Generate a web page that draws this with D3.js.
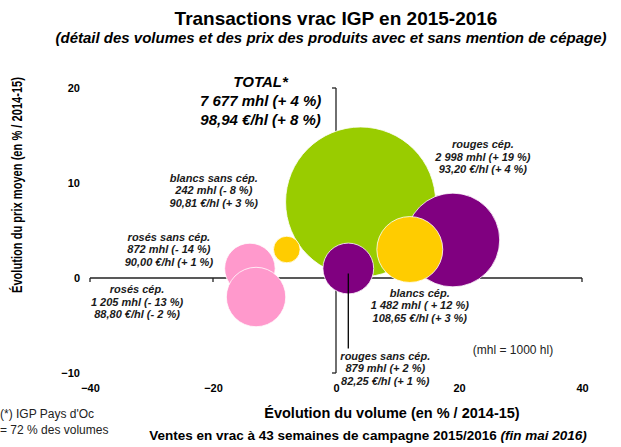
<!DOCTYPE html>
<meta charset="utf-8">
<script src="https://d3js.org/d3.v7.min.js"></script>
<style type="text/css">
body { margin: 0; background: #fff; }
svg { font-family: "Liberation Sans", Arial, sans-serif; }
.tick-label { font-size: 11px; font-weight: bold; fill: #000; }
.bulle-label { font-size: 11px; font-weight: bold; font-style: italic; fill: #1a1a1a; }
.total-label { font-size: 15px; font-weight: bold; font-style: italic; fill: #000; }
.axe { stroke: #222; stroke-width: 1.3; fill: none; }
</style>
<body>
<div id="canvas"></div>
<script>

// donnees ---------------------------------------------------------------
var categories = ["TOTAL*", "rouges cép.", "blancs cép.", "rouges sans cép.",
                  "blancs sans cép.", "rosés sans cép.", "rosés cép."];
var volumes   = [7677, 2998, 1482, 879, 242, 872, 1205];     // mhl
var evolVol   = [4, 19, 12, 2, -8, -14, -13];                // % / 2014-15
var prix      = ["98,94", "93,20", "108,65", "82,25", "90,81", "90,00", "88,80"]; // €/hl
var evolPrix  = [8, 4, 3, 1, 3, 1, -2];                      // % / 2014-15
var xTicks = [-40, -20, 0, 20, 40];
var yTicks = [-10, 0, 10, 20];

var couleurs = ["#99cc00", "#800080", "#ffcc00", "#800080", "#ffcc00", "#ff99cc", "#ff99cc"];
// position des etiquettes par rapport au centre de la bulle
var decalage = [[-100, -115], [30, -92], [10, 47], [37, 91], [-73, -68], [-81, -28], [-119, -4]];

var data = categories.map(function(c, i) {
    return {nom: c, vol: volumes[i], dx: evolVol[i], prix: prix[i], dy: evolPrix[i]};
});

var width = 621;
var height = 447;

var svg = d3.select('#canvas')
    .append("svg")
    .attr('width', width)
    .attr('height', height);

// echelles ----------------------------------------------------------
var x = d3.scaleLinear().domain([-40, 40]).range([90, 582]);
var y = d3.scaleLinear().domain([-10, 20]).range([373, 88]);
var r = d3.scaleSqrt().domain([0, d3.max(volumes)]).range([0, 75]);

// titres
svg.append("text")
    .attr("x", 336).attr("y", 25)
    .attr("text-anchor", "middle")
    .style("font-size", "19px").style("font-weight", "bold")
    .text("Transactions vrac IGP en 2015-2016");
svg.append("text")
    .attr("x", 331).attr("y", 43)
    .attr("text-anchor", "middle")
    .style("font-size", "15px").style("font-weight", "bold").style("font-style", "italic")
    .text("(détail des volumes et des prix des produits avec et sans mention de cépage)");

// etiquettes des axes (loin des lignes, comme excel)
svg.append("g")
    .attr("transform", "translate(80,0)")
    .call(d3.axisLeft(y).tickValues(yTicks).tickSize(0).tickPadding(0))
    .call(function(g) { g.select(".domain").remove(); })
    .selectAll("text").attr("class", "tick-label").attr("font-family", null).attr("font-size", null);

svg.append("g")
    .attr("transform", "translate(0,384)")
    .call(d3.axisBottom(x).tickValues(xTicks).tickSize(0).tickPadding(0))
    .call(function(g) { g.select(".domain").remove(); })
    .selectAll("text").attr("class", "tick-label").attr("font-family", null).attr("font-size", null);

// lignes des axes ----------------------------------------------------
svg.append("line").attr("class", "axe")
    .attr("x1", x(-40)).attr("x2", x(40)).attr("y1", y(0)).attr("y2", y(0));
svg.append("line").attr("class", "axe")
    .attr("x1", x(0)).attr("x2", x(0)).attr("y1", y(20)).attr("y2", y(-10));
svg.selectAll(".xt").data(xTicks.filter(function(d) { return d != 0; })).enter()
    .append("line").attr("class", "axe")
    .attr("x1", function(d) { return x(d); }).attr("x2", function(d) { return x(d); })
    .attr("y1", y(0)).attr("y2", y(0) + 4);
svg.selectAll(".yt").data(yTicks).enter()
    .append("line").attr("class", "axe")
    .attr("x1", x(0) - 4).attr("x2", x(0))
    .attr("y1", function(d) { return y(d); }).attr("y2", function(d) { return y(d); });

// bulles -------------------------------------------------------------
svg.selectAll(".bulle")
    .data(data)
    .enter()
    .append("circle")
    .attr("cx", function(d) { return x(d.dx); })
    .attr("cy", function(d) { return y(d.dy); })
    .attr("r", function(d) { return r(d.vol); })
    .style("fill", function(d, i) { return couleurs[i]; })
    .style("stroke", "#fff")
    .style("stroke-width", 0.8);

// trait pour rouges sans cep.
var rsc = data[3];
svg.append("line")
    .attr("x1", x(rsc.dx)).attr("x2", x(rsc.dx))
    .attr("y1", y(rsc.dy) + 5).attr("y2", y(rsc.dy) + 80)
    .style("stroke", "#000").style("stroke-width", 1.3);

// etiquettes des bulles ---------------------------------------------
function signe(v) { return (v < 0 ? "- " : "+ ") + Math.abs(v) + " %"; }
var fmtVol = function(v) { return d3.format(",")(v).replace(/,/g, " "); };

data.forEach(function(d, i) {
    var total = i == 0;
    var lignes = [d.nom,
        fmtVol(d.vol) + " mhl (" + (i == 2 ? " " : "") + signe(d.dx) + ")",
        d.prix + " €/hl (" + signe(d.dy) + ")"];
    var t = svg.append("text")
        .attr("class", total ? "total-label" : "bulle-label")
        .attr("text-anchor", "middle")
        .attr("x", x(d.dx) + decalage[i][0])
        .attr("y", y(d.dy) + decalage[i][1]);
    lignes.forEach(function(l, j) {
        t.append("tspan")
            .attr("x", x(d.dx) + decalage[i][0])
            .attr("dy", j == 0 ? 0 : (total ? 19 : 12.7))
            .text(l);
    });
});

svg.append("text")
    .attr("x", 513).attr("y", 354)
    .attr("text-anchor", "middle")
    .style("font-size", "12px").style("fill", "#222")
    .text("(mhl = 1000 hl)");

// titres des axes (image d'origine un peu ecrasee en hauteur)
svg.append("text")
    .attr("transform", "translate(22,185) rotate(-90)")
    .attr("text-anchor", "middle")
    .attr("textLength", 216)
    .attr("lengthAdjust", "spacingAndGlyphs")
    .style("font-size", "14px").style("font-weight", "bold")
    .text("Évolution du prix moyen (en % / 2014-15)");

svg.append("text")
    .attr("x", 392).attr("y", 418)
    .attr("text-anchor", "middle")
    .style("font-size", "14.5px").style("font-weight", "bold")
    .text("Évolution du volume (en % / 2014-15)");

var bas = svg.append("text")
    .attr("x", 368).attr("y", 440)
    .attr("text-anchor", "middle")
    .style("font-size", "13.5px").style("font-weight", "bold");
bas.append("tspan").text("Ventes en vrac à 43 semaines de campagne 2015/2016 ");
bas.append("tspan").style("font-style", "italic").text("(fin mai 2016)");

// note
var note = svg.append("text")
    .style("font-size", "12px").style("fill", "#222");
note.append("tspan").attr("x", 0).attr("y", 418).text("(*) IGP Pays d'Oc");
note.append("tspan").attr("x", 0).attr("y", 434).text("= 72 % des volumes");
</script>
</body>
